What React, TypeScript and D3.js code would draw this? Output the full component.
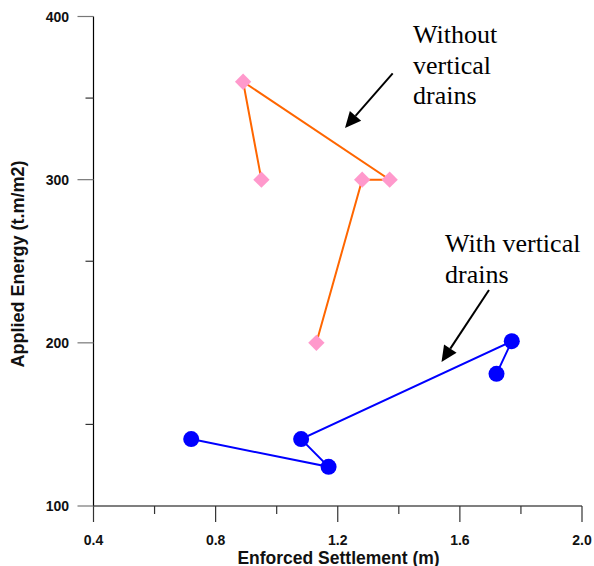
import React from "react";
import * as d3 from "d3";

const withoutX = [0.95, 0.89, 1.37, 1.28, 1.13];
const withoutY = [300, 360, 300, 300, 200];
const withX = [0.72, 1.17, 1.08, 1.77, 1.72];
const withY = [141, 124, 141, 201, 181];
const xMajor = [0.4, 0.8, 1.2, 1.6, 2.0];
const xMinor = [0.6, 1.0, 1.4, 1.8];
const yMajor = [100, 200, 300, 400];
const yMinor = [150, 250, 350];
const noteWithout = ["Without", "vertical", "drains"];
const noteWith = ["With vertical", "drains"];

export default function App() {
  const W = 594, H = 566;
  const x = d3.scaleLinear().domain([0.4, 2.0]).range([93.5, 582]);
  const y = d3.scaleLinear().domain([100, 400]).range([506, 16.5]);
  const line = d3.line<[number, number]>().x(d => x(d[0])).y(d => y(d[1]));
  const wo: [number, number][] = withoutX.map((v, i) => [v, withoutY[i]]);
  const wi: [number, number][] = withX.map((v, i) => [v, withY[i]]);
  const sans = "Arial, 'Liberation Sans', sans-serif";
  const serif = "'Times New Roman', 'Liberation Serif', serif";
  const diamond = d3.symbol().type(d3.symbolDiamond2).size(170)() as string;

  const arrow = (x1: number, y1: number, x2: number, y2: number) => {
    const ang = Math.atan2(y2 - y1, x2 - x1);
    const L = 16, Wd = 7.5;
    const bx = x2 - L * Math.cos(ang), by = y2 - L * Math.sin(ang);
    const px = -Math.sin(ang) * Wd, py = Math.cos(ang) * Wd;
    return (
      <g>
        <line x1={x1} y1={y1} x2={bx} y2={by} stroke="#000" strokeWidth={2} />
        <path d={`M${x2},${y2}L${bx + px},${by + py}L${bx - px},${by - py}Z`} fill="#000" />
      </g>
    );
  };

  return (
    <svg width={W} height={H} style={{ position: "absolute", left: 0, top: 0, background: "#fff" }}>
      {/* axes */}
      <line x1={x(0.4)} y1={y(100)} x2={x(0.4)} y2={y(400)} stroke="#000" strokeWidth={1.2} />
      <line x1={x(0.4)} y1={y(100)} x2={x(2.0)} y2={y(100)} stroke="#000" strokeWidth={1.2} />
      {xMajor.map(v => (
        <g key={"xm" + v}>
          <line x1={x(v)} x2={x(v)} y1={y(100)} y2={y(100) + 16} stroke="#333" strokeWidth={1.2} />
          <text x={x(v)} y={544.5} textAnchor="middle" fontFamily={sans} fontWeight="bold" fontSize={14} fill="#111">{v.toFixed(1)}</text>
        </g>
      ))}
      {xMinor.map(v => (
        <line key={"xn" + v} x1={x(v)} x2={x(v)} y1={y(100)} y2={y(100) + 8} stroke="#333" strokeWidth={1.2} />
      ))}
      {yMajor.map(v => (
        <g key={"ym" + v}>
          <line x1={x(0.4) - 16} x2={x(0.4)} y1={y(v)} y2={y(v)} stroke="#777" strokeWidth={1.2} />
          <text x={69} y={y(v) + 5} textAnchor="end" fontFamily={sans} fontWeight="bold" fontSize={14} fill="#111">{v}</text>
        </g>
      ))}
      {yMinor.map(v => (
        <line key={"yn" + v} x1={x(0.4) - 8} x2={x(0.4)} y1={y(v)} y2={y(v)} stroke="#333" strokeWidth={1.2} />
      ))}
      <text x={338.5} y={563.5} textAnchor="middle" fontFamily={sans} fontWeight="bold" fontSize={17.5} fill="#111">Enforced Settlement (m)</text>
      <text transform={`translate(24, 264) rotate(-90)`} textAnchor="middle" fontFamily={sans} fontWeight="bold" fontSize={18} fill="#111">Applied Energy (t.m/m2)</text>

      {/* series */}
      <path d={line(wo) as string} fill="none" stroke="#ff6600" strokeWidth={2} />
      {wo.map((d, i) => (
        <path key={"d" + i} d={diamond} transform={`translate(${x(d[0])},${y(d[1])})`} fill="#ff99cc" />
      ))}
      <path d={line(wi) as string} fill="none" stroke="#0000ff" strokeWidth={2} />
      {wi.map((d, i) => (
        <circle key={"c" + i} cx={x(d[0])} cy={y(d[1])} r={8} fill="#0000ff" />
      ))}

      {/* annotations */}
      {noteWithout.map((t, i) => (
        <text key={"a" + i} x={413} y={43 + i * 30.5} fontFamily={serif} fontSize={26} fill="#000">{t}</text>
      ))}
      {noteWith.map((t, i) => (
        <text key={"b" + i} x={445} y={252 + i * 31} fontFamily={serif} fontSize={26} fill="#000">{t}</text>
      ))}
      {arrow(392.7, 73.3, 345, 128)}
      {arrow(489, 290, 441.5, 362)}
    </svg>
  );
}
